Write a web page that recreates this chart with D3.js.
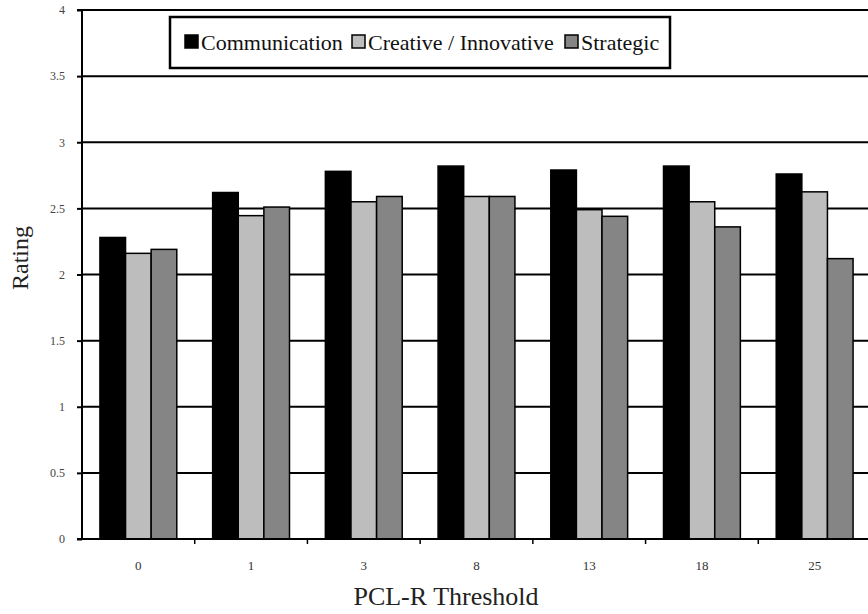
<!DOCTYPE html>
<html>
<head>
<meta charset="utf-8">
<script src="https://cdn.jsdelivr.net/npm/d3@7"></script>
<style>
  html, body { margin: 0; padding: 0; background: #fff; }
  svg { display: block; }
  svg text { font-family: "Liberation Serif", "Times New Roman", serif; }
</style>
</head>
<body>
<svg id="chart" width="868" height="614"></svg>
<script>
const categories = ["0", "1", "3", "8", "13", "18", "25"];
const seriesNames = ["Communication", "Creative / Innovative", "Strategic"];
const communication = [2.28, 2.62, 2.78, 2.82, 2.79, 2.82, 2.76];
const creative = [2.16, 2.445, 2.55, 2.59, 2.49, 2.55, 2.625];
const strategic = [2.19, 2.51, 2.59, 2.59, 2.44, 2.36, 2.12];
const yTicks = [0, 0.5, 1, 1.5, 2, 2.5, 3, 3.5, 4];
const seriesColors = ["#000000", "#bdbdbd", "#858585"];

(function () {
const seriesValues = [communication, creative, strategic];
const data = categories.map((c, i) => ({
  cat: c,
  vals: seriesNames.map((s, j) => ({ series: s, idx: j, value: seriesValues[j][i] }))
}));

const svg = d3.select("#chart");
const pLeft = 82, pRight = 871, pTop = 10, pBottom = 539;
const serif = "Liberation Serif, Times New Roman, serif";

const x0 = d3.scaleBand().domain(categories).range([pLeft, pRight]).padding(0);
const x1 = d3.scaleBand().domain(d3.range(3)).range([0, x0.bandwidth()])
  .paddingInner(0).paddingOuter(0.7);
const y = d3.scaleLinear().domain([0, 4]).range([pBottom, pTop]);

// gridlines
svg.append("g").selectAll("line").data(yTicks.filter(t => t > 0)).join("line")
  .attr("x1", pLeft).attr("x2", 868)
  .attr("y1", d => y(d)).attr("y2", d => y(d))
  .attr("stroke", "#000").attr("stroke-width", 2);

// bars
const groups = svg.append("g").selectAll("g").data(data).join("g")
  .attr("transform", d => `translate(${x0(d.cat)},0)`);
groups.selectAll("rect").data(d => d.vals).join("rect")
  .attr("x", d => x1(d.idx))
  .attr("width", x1.bandwidth())
  .attr("y", d => y(d.value))
  .attr("height", d => y(0) - y(d.value))
  .attr("fill", d => seriesColors[d.idx])
  .attr("stroke", "#000").attr("stroke-width", 1.5);

// y axis
const yAxis = d3.axisLeft(y).tickValues(yTicks).tickSize(5).tickPadding(12)
  .tickFormat(d => d3.format("")(d));
const yg = svg.append("g").attr("transform", `translate(${pLeft},0)`).call(yAxis);
yg.attr("font-family", null);
yg.select(".domain").attr("stroke", "#000").attr("stroke-width", 2).attr("d", `M-5,${pTop}H0V${pBottom}H-5`);
yg.selectAll(".tick line").attr("stroke", "#000").attr("stroke-width", 2);
yg.selectAll("text").style("font-family", serif).style("font-size", "12px").attr("fill", "#444");

// x axis
const xg = svg.append("g").attr("transform", `translate(0,${pBottom})`);
xg.append("line").attr("x1", pLeft).attr("x2", 868).attr("y1", 0).attr("y2", 0)
  .attr("stroke", "#000").attr("stroke-width", 2);
xg.selectAll("line.tk").data(categories.slice(1)).join("line").attr("class", "tk")
  .attr("x1", d => x0(d)).attr("x2", d => x0(d)).attr("y1", 0).attr("y2", 5)
  .attr("stroke", "#000").attr("stroke-width", 1.5);
xg.selectAll("text").data(categories).join("text")
  .attr("x", d => x0(d) + x0.bandwidth() / 2).attr("y", 31)
  .attr("text-anchor", "middle")
  .style("font-family", serif).style("font-size", "13px").attr("fill", "#333")
  .text(d => d);

// axis titles
svg.append("text").attr("x", 446).attr("y", 605).attr("text-anchor", "middle")
  .style("font-family", serif).style("font-size", "26px").attr("fill", "#222")
  .text("PCL-R Threshold");
svg.append("text").attr("transform", "translate(28,258) rotate(-90)")
  .attr("text-anchor", "middle")
  .style("font-family", serif).style("font-size", "24px").attr("fill", "#222")
  .text("Rating");

// legend
const lg = svg.append("g");
lg.append("rect").attr("x", 170).attr("y", 17).attr("width", 500).attr("height", 51)
  .attr("fill", "#fff").attr("stroke", "#000").attr("stroke-width", 2.5);
const legendX = [185, 352, 565];
seriesNames.forEach((s, i) => {
  lg.append("rect").attr("x", legendX[i]).attr("y", 35).attr("width", 13).attr("height", 13)
    .attr("fill", seriesColors[i]).attr("stroke", "#000").attr("stroke-width", 1.5);
  lg.append("text").attr("x", legendX[i] + 16).attr("y", 50)
    .style("font-family", serif).style("font-size", "22px").attr("fill", "#111")
    .text(s);
});
})();
</script>
</body>
</html>
